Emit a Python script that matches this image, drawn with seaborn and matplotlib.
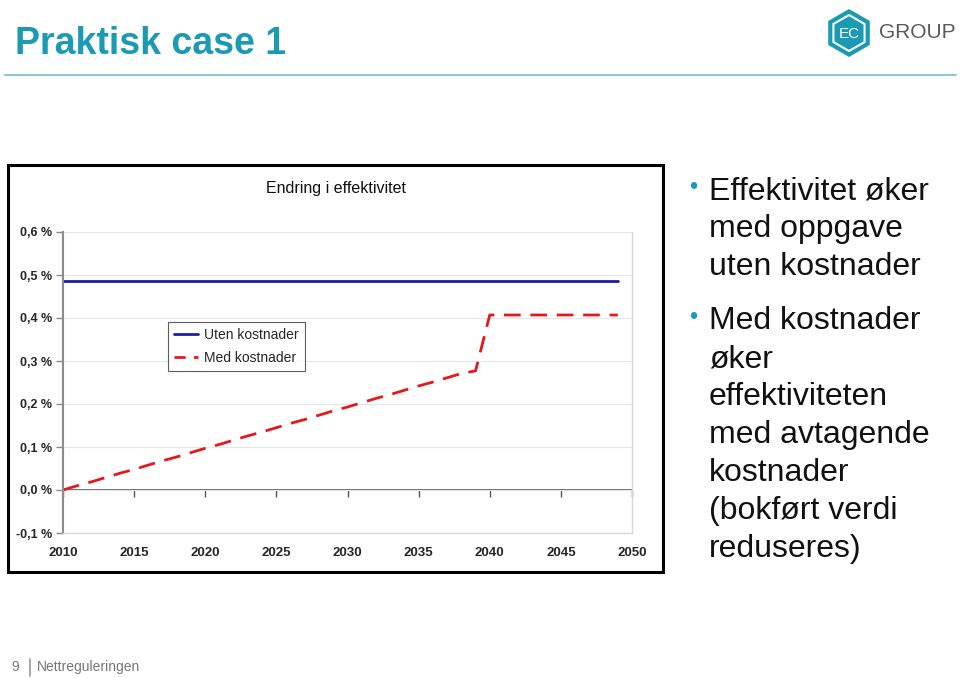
import matplotlib
matplotlib.use("Agg")
import matplotlib.pyplot as plt
import numpy as np
import pandas as pd
import seaborn as sns
from matplotlib.patches import Rectangle, RegularPolygon
from matplotlib.lines import Line2D
from matplotlib.transforms import IdentityTransform

# data (percent)
years = list(range(2010, 2050))
uten_kostnader = [0.485] * 40
med_kostnader = [0.000, 0.010, 0.019, 0.029, 0.039, 0.048, 0.058, 0.068, 0.077, 0.087,
                 0.097, 0.106, 0.116, 0.126, 0.135, 0.145, 0.155, 0.164, 0.174, 0.184,
                 0.193, 0.203, 0.213, 0.222, 0.232, 0.242, 0.251, 0.261, 0.271, 0.277,
                 0.407, 0.407, 0.407, 0.407, 0.407, 0.407, 0.407, 0.407, 0.407, 0.407]
series_names = ["Uten kostnader", "Med kostnader"]
y_ticks = [-0.1, 0.0, 0.1, 0.2, 0.3, 0.4, 0.5, 0.6]
x_ticks = [2010, 2015, 2020, 2025, 2030, 2035, 2040, 2045, 2050]

sns.set_theme(style="white")
plt.rcParams["font.family"] = ["Liberation Sans", "DejaVu Sans"]

W, H = 960, 678
fig = plt.figure(figsize=(W / 100, H / 100), dpi=100)


def fx(px):
    return px / W


def fy(py):
    return 1 - py / H


TEAL = "#1b9ab3"

# slide header
fig.text(fx(15), fy(44), "Praktisk case 1", color=TEAL, fontsize=27, fontweight="bold",
         va="center", ha="left")
fig.add_artist(Line2D([fx(5), fx(956)], [fy(75), fy(75)], color="#8cc9d6", lw=1.5))

# logo (pixel coordinates)
px_tr = IdentityTransform()
fig.add_artist(RegularPolygon((849, H - 33), numVertices=6, radius=24,
                              facecolor=TEAL, edgecolor="none", transform=px_tr))
fig.add_artist(RegularPolygon((849, H - 33), numVertices=6, radius=18,
                              facecolor="none", edgecolor="white", lw=1.5, transform=px_tr))
fig.text(fx(849), fy(34), "EC", color="white", fontsize=11, ha="center", va="center")
fig.text(fx(879), fy(33), "GROUP", color="#5a5a5a", fontsize=15, ha="left", va="center")

# chart frame
fig.add_artist(Rectangle((fx(8), fy(572)), fx(655), (572 - 165) / H, fill=False,
                         edgecolor="black", lw=2.2, transform=fig.transFigure))
fig.text(fx(336), fy(188), "Endring i effektivitet", fontsize=11.5,
         ha="center", va="center", color="#111111")

ax = fig.add_axes([fx(63), fy(533), fx(569), (533 - 232) / H])

df = pd.concat([
    pd.DataFrame({"year": years, "value": uten_kostnader, "serie": series_names[0]}),
    pd.DataFrame({"year": years, "value": med_kostnader, "serie": series_names[1]}),
])
sns.lineplot(data=df, x="year", y="value", hue="serie", style="serie", ax=ax,
             palette={series_names[0]: "#1c1ca8", series_names[1]: "#e3191c"},
             dashes={series_names[0]: "", series_names[1]: (6, 3.5)},
             linewidth=2, legend=False)

ax.set_xlim(2010, 2050)
ax.set_ylim(-0.1, 0.6)
ax.set_xlabel("")
ax.set_ylabel("")
ax.set_yticks(y_ticks)
ax.set_yticklabels([f"{v:.1f} %".replace(".", ",") for v in y_ticks],
                   fontsize=9, fontweight="bold")
ax.set_xticks(x_ticks)
ax.set_xticklabels([str(v) for v in x_ticks], fontsize=9.5, fontweight="bold")
ax.tick_params(axis="x", length=0, pad=10)
ax.tick_params(axis="y", length=5, width=1, color="#888888", direction="out", left=True, pad=3)
ax.grid(axis="y", color="#e6e6e6", lw=0.8)
ax.grid(axis="x", visible=False)
for s in ["top", "right", "bottom"]:
    ax.spines[s].set_color("#d9d9d9")
    ax.spines[s].set_linewidth(1)
ax.spines["top"].set_visible(False)
ax.spines["left"].set_color("#8c8c8c")
ax.spines["left"].set_linewidth(1.5)

# zero axis with category tick marks
zero_frac = (0 - y_ticks[0]) / (y_ticks[-1] - y_ticks[0])
sec = ax.secondary_xaxis(zero_frac)
sec.set_xticks(x_ticks)
sec.set_xticklabels([])
sec.tick_params(length=5, width=1, color="#555555", direction="out")
sec.spines["bottom"].set_color("#555555")
sec.spines["bottom"].set_linewidth(1.2)

handles = [Line2D([], [], color="#1c1ca8", lw=2),
           Line2D([], [], color="#e3191c", lw=2, dashes=(4, 3))]
leg = ax.legend(handles, series_names, loc="upper left",
                bbox_to_anchor=(fx(168), fy(322)), bbox_transform=fig.transFigure,
                frameon=True, fancybox=False, fontsize=10, handlelength=1.7,
                borderpad=0.45, labelspacing=0.6, handletextpad=0.45, borderaxespad=0)
leg.get_frame().set_edgecolor("#333333")
leg.get_frame().set_linewidth(0.8)

# bullets on the right
bullet_blocks = [
    (176, "Effektivitet øker\nmed oppgave\nuten kostnader"),
    (306, "Med kostnader\nøker\neffektiviteten\nmed avtagende\nkostnader\n(bokført verdi\nreduseres)"),
]
for top, txt in bullet_blocks:
    fig.text(fx(689), fy(top + 12), "•", color=TEAL, fontsize=17, va="center", ha="left")
    fig.text(fx(709), fy(top), txt, fontsize=23, va="top", ha="left",
             color="#111111", linespacing=1.35)

# footer
fig.text(fx(11), fy(667), "9", fontsize=10, color="#777777", va="center")
fig.add_artist(Line2D([fx(30), fx(30)], [fy(659), fy(676)], color="#999999", lw=1.2))
fig.text(fx(37), fy(667), "Nettreguleringen", fontsize=10, color="#777777", va="center")

fig.savefig("out.png", dpi=100, facecolor="white")
